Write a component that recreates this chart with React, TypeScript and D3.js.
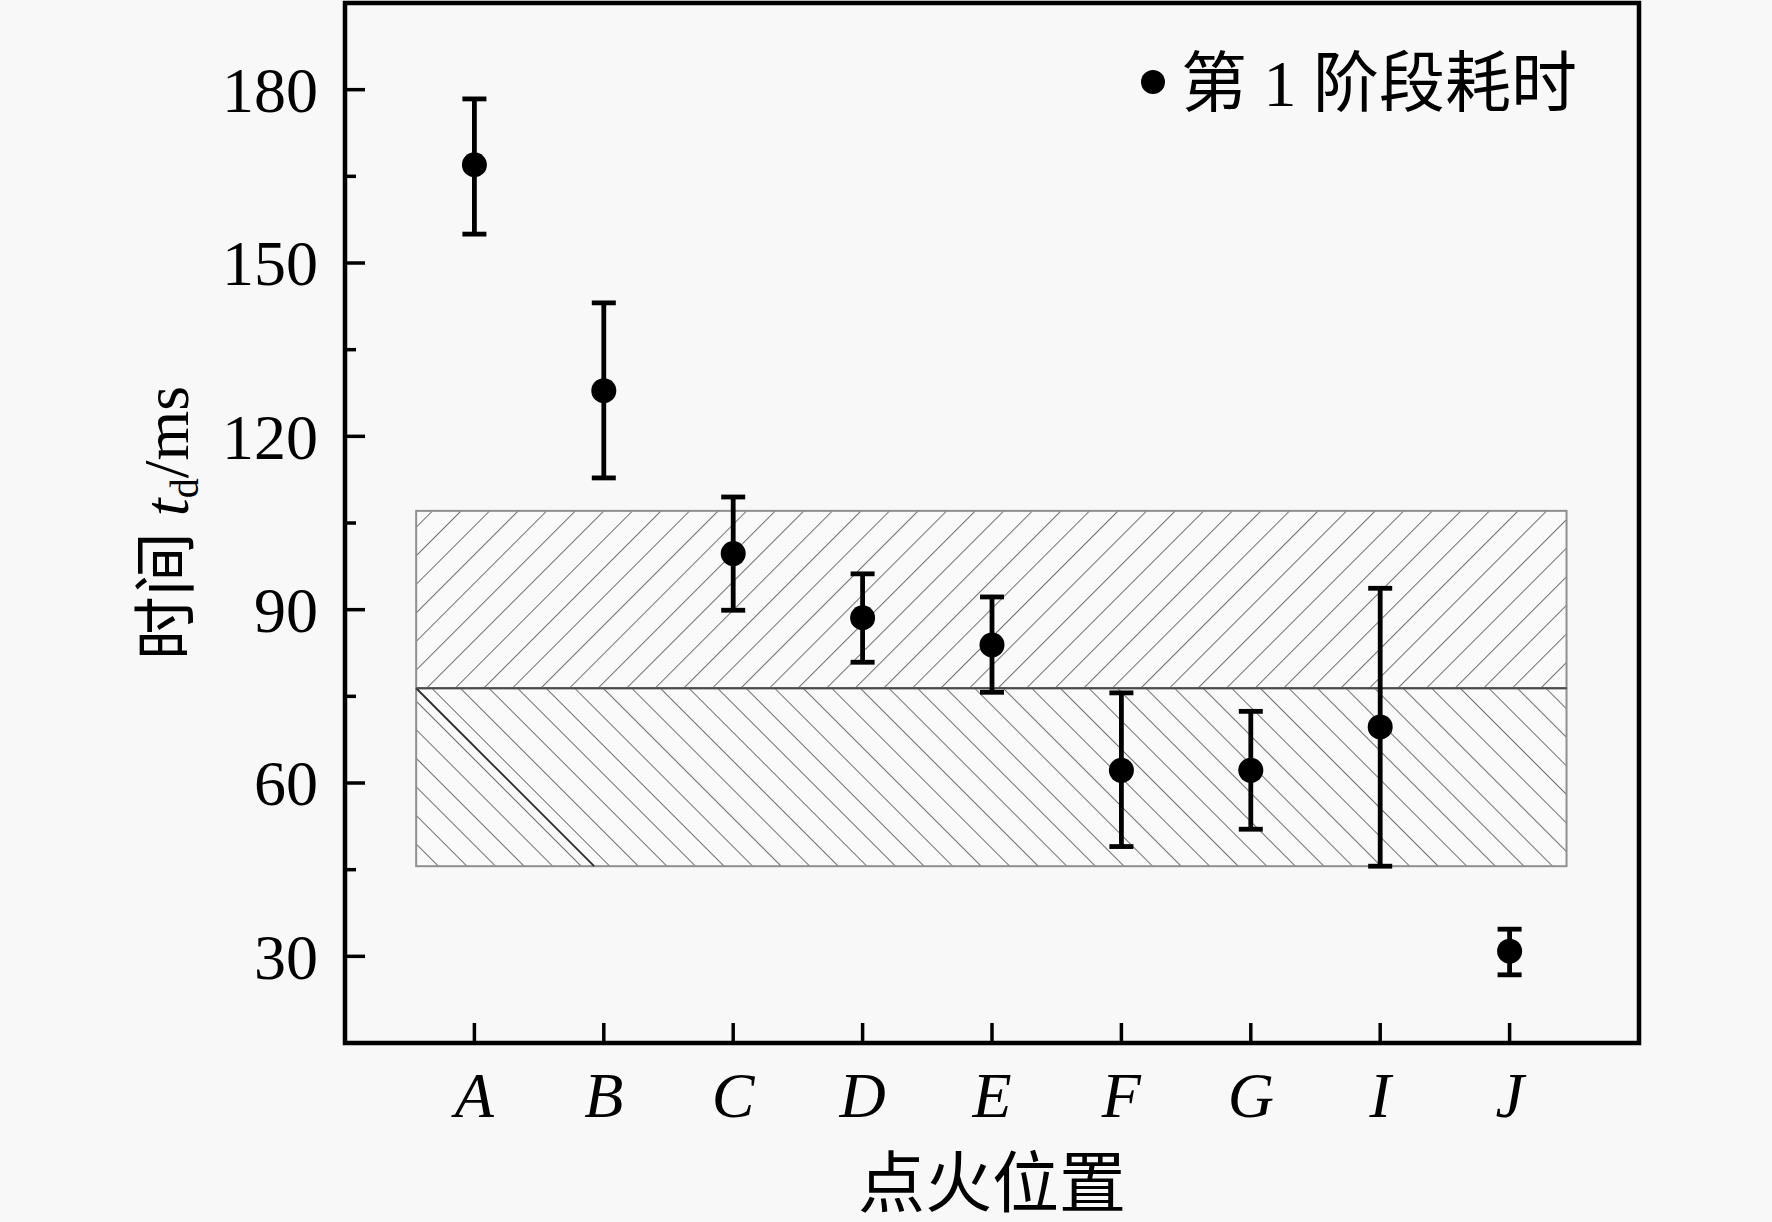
import { useEffect, useRef } from "react";
import * as d3 from "d3";

const categories = ["A", "B", "C", "D", "E", "F", "G", "I", "J"];
const means = [167.0, 127.9, 99.7, 88.6, 83.9, 62.2, 62.2, 69.7, 30.9];
const upperErr = [178.4, 143.1, 109.5, 96.2, 92.2, 75.6, 72.4, 93.7, 34.7];
const lowerErr = [155.0, 112.8, 89.9, 80.9, 75.7, 49.0, 52.0, 45.6, 26.8];
const yTicks = [30, 60, 90, 120, 150, 180];
const yMinorTicks = [45, 75, 105, 135, 165];
// shaded range: mean line and the upper / lower bounds
const bandMid = 76.4;
const bandTop = 107.1;
const bandBottom = 45.6;
const legendLabel = "第 1 阶段耗时";

export default function App() {
  const chartRef = useRef<SVGSVGElement>(null);

  useEffect(() => {
    if (!chartRef.current) return;
    document.body.style.margin = "0";
    document.body.style.background = "#f8f8f8";

    const svg = d3.select(chartRef.current);
    svg.selectAll("*").remove();

    const width = 1772;
    const height = 1222;
    const margin = { top: 3, right: 133, bottom: 179, left: 345 };
    const font = "'Liberation Serif', 'Times New Roman', 'Noto Sans CJK SC', serif";

    svg.attr("width", width).attr("height", height).attr("viewBox", `0 0 ${width} ${height}`);

    svg.append("rect").attr("width", width).attr("height", height).attr("fill", "#f8f8f8");

    const x = d3
      .scalePoint<string>()
      .domain(categories)
      .range([margin.left, width - margin.right])
      .padding(1);

    const y = d3
      .scaleLinear()
      .domain([15, 195])
      .range([height - margin.bottom, margin.top]);

    const defs = svg.append("defs");
    const hatch = (id: string, angle: number) => {
      const p = defs
        .append("pattern")
        .attr("id", id)
        .attr("patternUnits", "userSpaceOnUse")
        .attr("width", 20.2)
        .attr("height", 20.2)
        .attr("patternTransform", `rotate(${angle})`);
      p.append("rect").attr("width", 20.2).attr("height", 20.2).attr("fill", "#fafafa");
      p.append("line")
        .attr("x1", 0).attr("y1", 0).attr("x2", 0).attr("y2", 20.2)
        .attr("stroke", "#707070")
        .attr("stroke-width", 2);
    };
    hatch("hatchUp", 45);
    hatch("hatchDown", -45);

    const step = x.step();
    const bx0 = (x(categories[0]) || 0) - 0.45 * step;
    const bx1 = (x(categories[categories.length - 1]) || 0) + 0.44 * step;

    // upper band ///
    svg.append("rect")
      .attr("x", bx0).attr("y", y(bandTop))
      .attr("width", bx1 - bx0).attr("height", y(bandMid) - y(bandTop))
      .attr("fill", "url(#hatchUp)")
      .attr("stroke", "#8f8f8f").attr("stroke-width", 2);

    // lower band \\\
    svg.append("rect")
      .attr("x", bx0).attr("y", y(bandMid))
      .attr("width", bx1 - bx0).attr("height", y(bandBottom) - y(bandMid))
      .attr("fill", "url(#hatchDown)")
      .attr("stroke", "#8f8f8f").attr("stroke-width", 2);

    // darker stray hatch line at the left of the lower band
    const bh = y(bandBottom) - y(bandMid);
    svg.append("line")
      .attr("x1", bx0).attr("y1", y(bandMid))
      .attr("x2", bx0 + bh).attr("y2", y(bandBottom))
      .attr("stroke", "#2a2a2a").attr("stroke-width", 1.8);

    svg.append("line")
      .attr("x1", bx0).attr("x2", bx1)
      .attr("y1", y(bandMid)).attr("y2", y(bandMid))
      .attr("stroke", "#4a4a4a").attr("stroke-width", 2);

    // frame
    svg.append("rect")
      .attr("x", margin.left).attr("y", margin.top)
      .attr("width", width - margin.left - margin.right)
      .attr("height", height - margin.top - margin.bottom)
      .attr("fill", "none")
      .attr("stroke", "#000")
      .attr("stroke-width", 4.5);

    // y ticks (inward)
    svg.append("g")
      .selectAll("line")
      .data(yTicks)
      .join("line")
      .attr("x1", margin.left).attr("x2", margin.left + 20)
      .attr("y1", (d) => y(d)).attr("y2", (d) => y(d))
      .attr("stroke", "#000").attr("stroke-width", 3.5);

    svg.append("g")
      .selectAll("line")
      .data(yMinorTicks)
      .join("line")
      .attr("x1", margin.left).attr("x2", margin.left + 11)
      .attr("y1", (d) => y(d)).attr("y2", (d) => y(d))
      .attr("stroke", "#000").attr("stroke-width", 3.5);

    svg.append("g")
      .selectAll("text")
      .data(yTicks)
      .join("text")
      .attr("x", margin.left - 27)
      .attr("y", (d) => y(d))
      .attr("dy", "0.35em")
      .attr("text-anchor", "end")
      .style("font-family", font)
      .style("font-size", "64px")
      .text((d) => d);

    // x ticks (inward)
    const xBase = height - margin.bottom;
    svg.append("g")
      .selectAll("line")
      .data(categories)
      .join("line")
      .attr("x1", (d) => x(d) || 0).attr("x2", (d) => x(d) || 0)
      .attr("y1", xBase).attr("y2", xBase - 20)
      .attr("stroke", "#000").attr("stroke-width", 3.5);

    svg.append("g")
      .selectAll("text")
      .data(categories)
      .join("text")
      .attr("x", (d) => x(d) || 0)
      .attr("y", 1117)
      .attr("text-anchor", "middle")
      .style("font-family", font)
      .style("font-style", "italic")
      .style("font-size", "64px")
      .text((d) => d);

    // axis titles
    svg.append("text")
      .attr("x", (margin.left + width - margin.right) / 2)
      .attr("y", 1207)
      .attr("text-anchor", "middle")
      .style("font-family", font)
      .style("font-size", "67px")
      .text("点火位置");

    const yTitle = svg.append("text")
      .attr("transform", `translate(188,${(margin.top + height - margin.bottom) / 2}) rotate(-90)`)
      .attr("text-anchor", "middle")
      .style("font-family", font)
      .style("font-size", "64px");
    yTitle.append("tspan").text("时间 ");
    yTitle.append("tspan").style("font-style", "italic").text("t");
    yTitle.append("tspan").attr("dy", 10).style("font-size", "40px").text("d");
    yTitle.append("tspan").attr("dy", -10).text("/ms");

    // error bars
    const pts = categories.map((c, i) => ({ c, m: means[i], hi: upperErr[i], lo: lowerErr[i] }));
    const bars = svg.append("g").attr("stroke", "#000").attr("stroke-width", 4.8);
    bars.selectAll(".stem")
      .data(pts)
      .join("line")
      .attr("class", "stem")
      .attr("x1", (d) => x(d.c) || 0).attr("x2", (d) => x(d.c) || 0)
      .attr("y1", (d) => y(d.hi)).attr("y2", (d) => y(d.lo));
    bars.selectAll(".capHi")
      .data(pts)
      .join("line")
      .attr("class", "capHi")
      .attr("x1", (d) => (x(d.c) || 0) - 12).attr("x2", (d) => (x(d.c) || 0) + 12)
      .attr("y1", (d) => y(d.hi)).attr("y2", (d) => y(d.hi));
    bars.selectAll(".capLo")
      .data(pts)
      .join("line")
      .attr("class", "capLo")
      .attr("x1", (d) => (x(d.c) || 0) - 12).attr("x2", (d) => (x(d.c) || 0) + 12)
      .attr("y1", (d) => y(d.lo)).attr("y2", (d) => y(d.lo));

    svg.append("g")
      .selectAll("circle")
      .data(pts)
      .join("circle")
      .attr("cx", (d) => x(d.c) || 0)
      .attr("cy", (d) => y(d.m))
      .attr("r", 12.5)
      .attr("fill", "#000");

    // legend
    svg.append("circle").attr("cx", 1153).attr("cy", 82).attr("r", 12).attr("fill", "#000");
    svg.append("text")
      .attr("x", 1181)
      .attr("y", 106)
      .style("font-family", font)
      .style("font-size", "66px")
      .text(legendLabel);
  }, []);

  return (
    <div style={{ width: 1772, height: 1222 }}>
      <svg ref={chartRef} style={{ display: "block" }}></svg>
    </div>
  );
}
